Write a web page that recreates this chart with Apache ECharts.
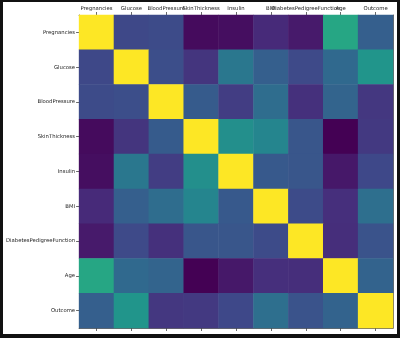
<!DOCTYPE html>
<html>
<head>
<meta charset="utf-8">
<script src="https://cdn.jsdelivr.net/npm/echarts@6/dist/echarts.min.js"></script>
<style>
  html, body { margin: 0; padding: 0; background: #000; }
  #frame { position: absolute; left: 0; top: 0; width: 400px; height: 338px; background: #111; }
  #chart { position: absolute; left: 3px; top: 2px; width: 394px; height: 332px; background: #fff; }
</style>
</head>
<body>
<div id="frame"></div>
<div id="chart"></div>
<script>
const categories = ["Pregnancies", "Glucose", "BloodPressure", "SkinThickness", "Insulin", "BMI", "DiabetesPedigreeFunction", "Age", "Outcome"];
const rowPregnancies   = [1.000, 0.129, 0.141, -0.082, -0.074, 0.018, -0.034, 0.544, 0.222];
const rowGlucose       = [0.129, 1.000, 0.153, 0.057, 0.331, 0.221, 0.137, 0.264, 0.467];
const rowBloodPressure = [0.141, 0.153, 1.000, 0.207, 0.089, 0.282, 0.041, 0.240, 0.065];
const rowSkinThickness = [-0.082, 0.057, 0.207, 1.000, 0.437, 0.393, 0.184, -0.114, 0.075];
const rowInsulin       = [-0.074, 0.331, 0.089, 0.437, 1.000, 0.198, 0.185, -0.042, 0.131];
const rowBMI           = [0.018, 0.221, 0.282, 0.393, 0.198, 1.000, 0.141, 0.036, 0.293];
const rowDPF           = [-0.034, 0.137, 0.041, 0.184, 0.185, 0.141, 1.000, 0.034, 0.174];
const rowAge           = [0.544, 0.264, 0.240, -0.114, -0.042, 0.036, 0.034, 1.000, 0.238];
const rowOutcome       = [0.222, 0.467, 0.065, 0.075, 0.131, 0.293, 0.174, 0.238, 1.000];
const rows = [rowPregnancies, rowGlucose, rowBloodPressure, rowSkinThickness, rowInsulin, rowBMI, rowDPF, rowAge, rowOutcome];

const viridis = ["#440154", "#482878", "#3e4989", "#31688e", "#26828e", "#1f9e89", "#35b779", "#6ece58", "#b5de2b", "#fde725"];

const data = [];
rows.forEach((row, r) => row.forEach((v, c) => data.push([c, r, v])));

const chart = echarts.init(document.getElementById('chart'), null, { renderer: 'canvas' });
const labelFont = { fontFamily: 'DejaVu Sans', fontSize: 5.3, color: '#222' };
const tickStyle = { show: true, alignWithLabel: true, interval: 0, length: 3, lineStyle: { color: '#444', width: 0.8 } };
chart.setOption({
  animation: false,
  grid: { left: 76, top: 13, width: 314, height: 313 },
  xAxis: [
    {
      type: 'category', data: categories, position: 'top',
      axisLine: { show: true, lineStyle: { color: '#444', width: 0.8 } },
      axisTick: tickStyle,
      axisLabel: Object.assign({ interval: 0, margin: 4 }, labelFont),
      splitLine: { show: false }
    },
    {
      type: 'category', data: categories, position: 'bottom',
      axisLine: { show: true, lineStyle: { color: '#444', width: 0.8 } },
      axisTick: tickStyle,
      axisLabel: { show: false, interval: 0 },
      splitLine: { show: false }
    }
  ],
  yAxis: [
    {
      type: 'category', data: categories, inverse: true,
      axisLine: { show: true, lineStyle: { color: '#444', width: 0.8 } },
      axisTick: tickStyle,
      axisLabel: Object.assign({ interval: 0, margin: 4 }, labelFont),
      splitLine: { show: false }
    },
    {
      type: 'category', data: categories, inverse: true, position: 'right',
      axisLine: { show: true, lineStyle: { color: '#444', width: 0.8 } },
      axisTick: { show: false },
      axisLabel: { show: false },
      splitLine: { show: false }
    }
  ],
  visualMap: {
    show: false, type: 'continuous', min: -0.114, max: 1.0, dimension: 2,
    inRange: { color: viridis }
  },
  series: [{
    type: 'heatmap', data: data, xAxisIndex: 0, yAxisIndex: 0,
    itemStyle: { borderWidth: 0 },
    emphasis: { disabled: true }
  }]
});
</script>
</body>
</html>
